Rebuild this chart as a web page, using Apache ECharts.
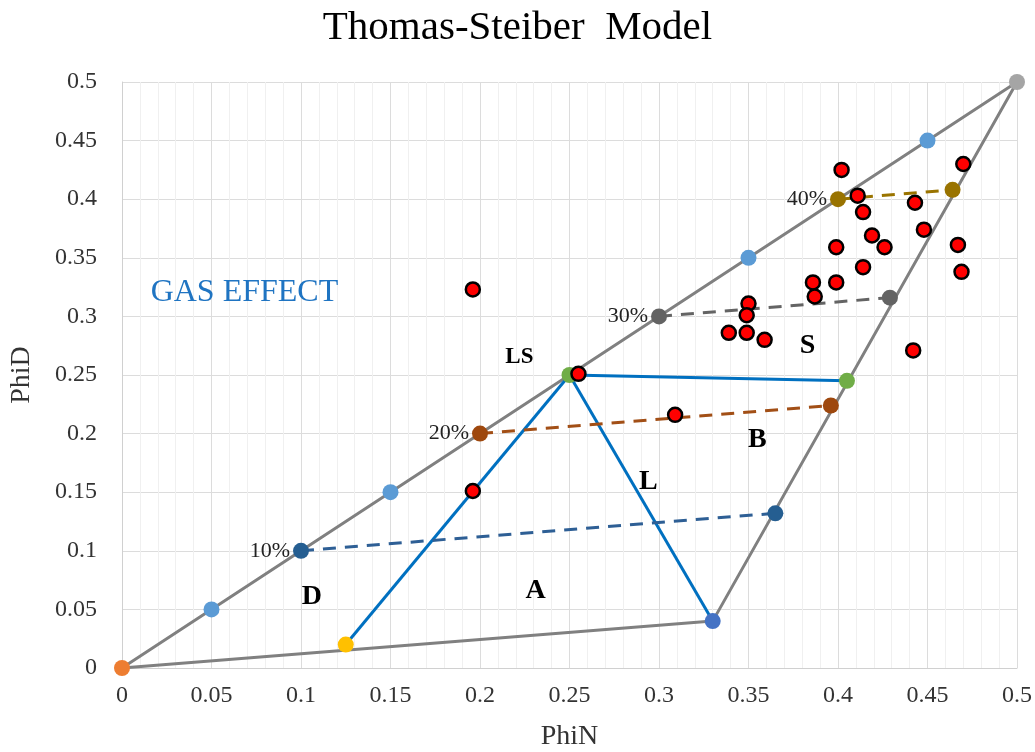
<!DOCTYPE html>
<html>
<head>
<meta charset="utf-8">
<script src="https://cdn.jsdelivr.net/npm/echarts@6/dist/echarts.min.js"></script>
<style>html,body{margin:0;padding:0;background:#fff}#c{width:1035px;height:752px}</style>
</head>
<body>
<div id="c"></div>
<script>
// ---- data (PhiN, PhiD) ----
const outline = [[0,0],[0.5,0.5],[0.33,0.04],[0,0]];
const blueLeft = [[0.125,0.02],[0.25,0.25]];
const blueL = [[0.25,0.25],[0.33,0.04]];
const blueTop = [[0.25,0.25],[0.405,0.245]];
const line10 = [[0.1,0.1],[0.365,0.132]];
const line20 = [[0.2,0.2],[0.396,0.224]];
const line30 = [[0.3,0.3],[0.429,0.316]];
const line40 = [[0.4,0.4],[0.464,0.408]];
const diagTicks = [[0.05,0.05],[0.15,0.15],[0.35,0.35],[0.45,0.45]];
const originPt = [[0,0]];
const topPt = [[0.5,0.5]];
const bottomPt = [[0.33,0.04]];
const yellowPt = [[0.125,0.02]];
const greenPts = [[0.25,0.25],[0.405,0.245]];
const pts10 = [[0.1,0.1],[0.365,0.132]];
const pts20 = [[0.2,0.2],[0.396,0.224]];
const pts30 = [[0.3,0.3],[0.429,0.316]];
const pts40 = [[0.4,0.4],[0.464,0.408]];
const pctLabels = ['10%','20%','30%','40%'];
const samples = [
  [0.196,0.323],[0.402,0.425],[0.470,0.430],[0.411,0.403],[0.443,0.397],
  [0.414,0.389],[0.419,0.369],[0.448,0.374],[0.399,0.359],[0.426,0.359],
  [0.467,0.361],[0.414,0.342],[0.469,0.338],[0.399,0.329],[0.386,0.329],
  [0.387,0.317],[0.350,0.311],[0.349,0.301],[0.339,0.286],[0.349,0.286],
  [0.359,0.280],[0.442,0.271],[0.255,0.251],[0.309,0.216],[0.196,0.151]
];
const zoneNames = ['D','A','L','B','S'];
const zonePos = [[0.106,0.061],[0.231,0.066],[0.294,0.159],[0.355,0.195],[0.383,0.275]];
const lsName = ['LS'];
const lsPos = [[0.222,0.265]];
const gasName = ['GAS EFFECT'];
const gasPos = [[0.016,0.32]];

const serif = 'Liberation Serif';
function lineS(data, color, dashed){
  return {type:'line', data:data, symbol:'none', silent:true, z:2,
    lineStyle:{color:color, width:3, type: dashed ? [13,9] : 'solid'}};
}
function ptS(data, color, size, labels){
  const s = {type:'scatter', data:data, symbolSize:size||16, z:4,
    itemStyle:{color:color, opacity:1}};
  if(labels){
    s.label = {show:true, position:'left', distance:3, fontFamily:serif, fontSize:22, color:'#222',
      formatter: p => p.dataIndex===0 ? labels : ''};
  }
  return s;
}
function textS(names, pos, style){
  return {type:'scatter', symbolSize:0, z:6, silent:true,
    itemStyle:{opacity:1, color:'transparent'},
    data: pos.map((p,i)=>({value:p, name:names[i]})),
    label: Object.assign({show:true, position:'inside', formatter:'{b}', fontFamily:serif}, style)};
}

const chart = echarts.init(document.getElementById('c'));
chart.setOption({
  animation:false,
  backgroundColor:'#fff',
  title:{text:'Thomas-Steiber  Model', left:'center', top:3,
    textStyle:{fontFamily:serif, fontSize:41, fontWeight:'normal', color:'#000'}},
  grid:{left:122, right:18, top:82, bottom:84, outerBoundsMode:'none', containLabel:false},
  xAxis:{type:'value', min:0, max:0.5, interval:0.05,
    name:'PhiN', nameLocation:'middle', nameGap:55,
    nameTextStyle:{fontFamily:serif, fontSize:28, color:'#333'},
    axisLine:{show:true, lineStyle:{color:'#d0d0d0'}}, axisTick:{show:false},
    axisLabel:{fontFamily:serif, fontSize:24, color:'#333', margin:16,
      formatter: v => String(Math.round(v*100)/100)},
    splitLine:{show:true, lineStyle:{color:'#dcdcdc', width:1}},
    minorTick:{show:false, splitNumber:5},
    minorSplitLine:{show:true, lineStyle:{color:'#f0f0f0', width:1}}},
  yAxis:{type:'value', min:0, max:0.5, interval:0.05,
    name:'PhiD', nameLocation:'middle', nameGap:86,
    nameTextStyle:{fontFamily:serif, fontSize:28, color:'#333'},
    axisLine:{show:true, lineStyle:{color:'#d0d0d0'}}, axisTick:{show:false},
    axisLabel:{fontFamily:serif, fontSize:24, color:'#333', margin:25,
      formatter: v => String(Math.round(v*100)/100)},
    splitLine:{show:true, lineStyle:{color:'#dcdcdc', width:1}}},
  series:[
    lineS(outline,'#808080',false),
    lineS(blueLeft,'#0070C0',false),
    lineS(blueL,'#0070C0',false),
    lineS(blueTop,'#0070C0',false),
    lineS(line10,'#2E5F95',true),
    lineS(line20,'#A24F16',true),
    lineS(line30,'#646464',true),
    lineS(line40,'#9A7400',true),
    ptS(diagTicks,'#5B9BD5'),
    ptS(originPt,'#ED7D31'),
    ptS(topPt,'#A5A5A5'),
    ptS(bottomPt,'#4472C4'),
    ptS(yellowPt,'#FFC000'),
    ptS(greenPts,'#70AD47'),
    ptS(pts10,'#255E91',16,pctLabels[0]),
    ptS(pts20,'#9E480E',16,pctLabels[1]),
    ptS(pts30,'#636363',16,pctLabels[2]),
    ptS(pts40,'#997300',16,pctLabels[3]),
    {type:'scatter', data:samples, symbolSize:14, z:5,
      itemStyle:{color:'#FF0000', borderColor:'#000', borderWidth:2.5, opacity:1}},
    textS(zoneNames, zonePos, {fontSize:28, fontWeight:'bold', color:'#000'}),
    textS(lsName, lsPos, {fontSize:23, fontWeight:'bold', color:'#000'}),
    textS(gasName, gasPos, {fontSize:32, color:'#1F74C2', position:'right', distance:0})
  ]
});
</script>
</body>
</html>
